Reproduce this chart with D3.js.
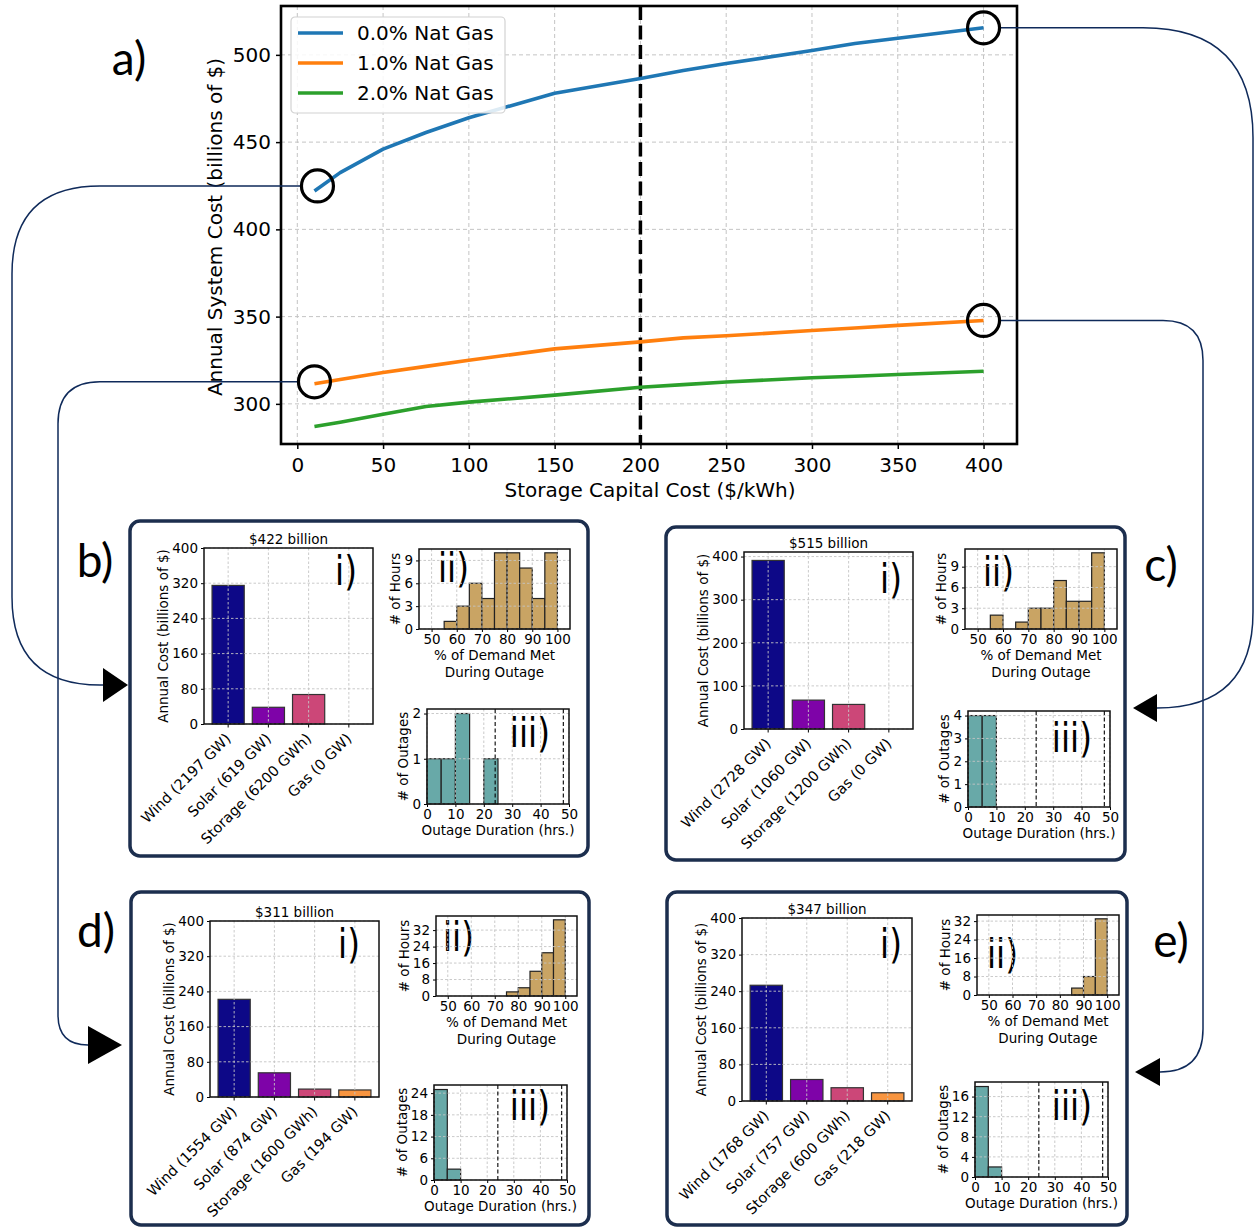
<!DOCTYPE html>
<html>
<head>
<meta charset="utf-8">
<script src="https://cdn.jsdelivr.net/npm/d3@7"></script>
<style>
body{margin:0;background:#fff;}
svg{display:block;font-family:"DejaVu Sans",sans-serif;}
</style>
</head>
<body>
<script>
//storage cost sweep figure, main line chart plus four detail panels
(function(){

//MAIN CHART DATA
var storageCost = [10, 25, 50, 75, 100, 150, 200, 225, 250, 300, 325, 350, 400];
var cost0Gas = [422, 432.5, 446, 455.5, 464, 478, 486.5, 491, 495, 502.5, 506.5, 509.5, 515.5];
var cost1Gas = [311.5, 314, 318, 321.5, 325, 331.5, 335.5, 337.8, 339, 342, 343.5, 345, 347.8];
var cost2Gas = [287, 289.5, 294, 298.5, 301, 305, 309.5, 311, 312.5, 315, 315.8, 316.8, 318.7];
var seriesNames = ["0.0% Nat Gas", "1.0% Nat Gas", "2.0% Nat Gas"];
var costTicksX = [0, 50, 100, 150, 200, 250, 300, 350, 400];
var costTicksY = [300, 350, 400, 450, 500];
var refCost = 200; //dashed reference line

//DETAIL PANEL DATA
var techs = ["Wind", "Solar", "Storage", "Gas"];
var demandBins = [50, 55, 60, 65, 70, 75, 80, 85, 90, 95, 100];
var demandTicks = [50, 60, 70, 80, 90, 100];
var outageBins = [0, 5, 10, 15, 20, 25, 30, 35, 40, 45, 50];
var outageTicks = [0, 10, 20, 30, 40, 50];
var outageMarks = [24, 48];

//b) 0% gas, $10/kWh
var bTotal = 422;
var bCost = [315, 38, 67, 0];
var bCap = ["2197 GW", "619 GW", "6200 GWh", "0 GW"];
var bHours = [0, 1, 3, 6, 4, 10, 10, 8, 4, 10];
var bOutages = [1, 1, 2, 0, 1, 0, 0, 0, 0, 0];
var bCostTicks = [0, 80, 160, 240, 320, 400];
var bHourTicks = [0, 3, 6, 9];
var bOutageTicks = [0, 1, 2];

//c) 0% gas, $400/kWh
var cTotal = 515;
var cCost = [391, 67, 57, 0];
var cCap = ["2728 GW", "1060 GW", "1200 GWh", "0 GW"];
var cHours = [0, 2, 0, 1, 3, 3, 7, 4, 4, 11];
var cOutages = [4, 4, 0, 0, 0, 0, 0, 0, 0, 0];
var cCostTicks = [0, 100, 200, 300, 400];
var cHourTicks = [0, 3, 6, 9];
var cOutageTicks = [0, 1, 2, 3, 4];

//d) 1% gas, $10/kWh
var dTotal = 311;
var dCost = [222, 55, 18, 16];
var dCap = ["1554 GW", "874 GW", "1600 GWh", "194 GW"];
var dHours = [0, 0, 0, 0, 0, 2, 4, 12, 21, 37];
var dOutages = [25, 3, 0, 0, 0, 0, 0, 0, 0, 0];
var dCostTicks = [0, 80, 160, 240, 320, 400];
var dHourTicks = [0, 8, 16, 24, 32];
var dOutageTicks = [0, 6, 12, 18, 24];

//e) 1% gas, $400/kWh
var eTotal = 347;
var eCost = [253, 47, 29, 18];
var eCap = ["1768 GW", "757 GW", "600 GWh", "218 GW"];
var eHours = [0, 0, 0, 0, 0, 0, 0, 3, 8, 33];
var eOutages = [18, 2, 0, 0, 0, 0, 0, 0, 0, 0];
var eCostTicks = [0, 80, 160, 240, 320, 400];
var eHourTicks = [0, 8, 16, 24, 32];
var eOutageTicks = [0, 4, 8, 12, 16];

//styles
var seriesColors = ["#1f77b4", "#ff7f0e", "#2ca02c"];
var techColors = ["#0d0887", "#7e03a8", "#cc4778", "#f89540"];
var hourColor = "#c9a464";
var outageColor = "#68a9a8";
var gridColor = "#c4c4c4";
var navy = "#0f2a5a";
var frameColor = "#1c2e4e";
var letterFont = "Lato, 'Open Sans', sans-serif";

var svg = d3.select("body")
	.append("svg")
	.attr("width", 1256)
	.attr("height", 1228);

//MAIN LINE CHART
var box = {left: 281, top: 6, right: 1017, bottom: 444};
var x = d3.scaleLinear().domain([-9.5, 419.5]).range([box.left, box.right]);
var y = d3.scaleLinear().domain([277, 528]).range([box.bottom, box.top]);
var main = svg.append("g").attr("class", "main");

//grid
main.selectAll(".vgrid")
	.data(costTicksX)
	.enter()
	.append("line")
	.attr("x1", function(d){ return x(d); })
	.attr("x2", function(d){ return x(d); })
	.attr("y1", box.top)
	.attr("y2", box.bottom)
	.attr("stroke", gridColor)
	.attr("stroke-width", 1)
	.attr("stroke-dasharray", "4,3");
main.selectAll(".hgrid")
	.data(costTicksY)
	.enter()
	.append("line")
	.attr("x1", box.left)
	.attr("x2", box.right)
	.attr("y1", function(d){ return y(d); })
	.attr("y2", function(d){ return y(d); })
	.attr("stroke", gridColor)
	.attr("stroke-width", 1)
	.attr("stroke-dasharray", "4,3");

//reference line
main.append("line")
	.attr("x1", x(refCost))
	.attr("x2", x(refCost))
	.attr("y1", box.top)
	.attr("y2", box.bottom)
	.attr("stroke", "#000")
	.attr("stroke-width", 3.5)
	.attr("stroke-dasharray", "14,5.5");

//cost lines
var series = [cost0Gas, cost1Gas, cost2Gas];
var line = d3.line()
	.x(function(d, i){ return x(storageCost[i]); })
	.y(function(d){ return y(d); });
main.selectAll(".costLine")
	.data(series)
	.enter()
	.append("path")
	.attr("class", "costLine")
	.attr("d", line)
	.attr("fill", "none")
	.attr("stroke", function(d, i){ return seriesColors[i]; })
	.attr("stroke-width", 3.6)
	.attr("stroke-linejoin", "round");

//axes
var xAxis = main.append("g")
	.attr("transform", "translate(0," + box.bottom + ")")
	.call(d3.axisBottom(x).tickValues(costTicksX).tickSize(5).tickPadding(9));
var yAxis = main.append("g")
	.attr("transform", "translate(" + box.left + ",0)")
	.call(d3.axisLeft(y).tickValues(costTicksY).tickSize(5).tickPadding(5));
[xAxis, yAxis].forEach(function(a){
	a.select(".domain").remove();
	a.selectAll("line").attr("stroke", "#000").attr("stroke-width", 1.5);
	a.selectAll("text").attr("fill", "#000").style("font-size", "20px").style("font-family", "DejaVu Sans");
});

//frame
main.append("rect")
	.attr("x", box.left)
	.attr("y", box.top)
	.attr("width", box.right - box.left)
	.attr("height", box.bottom - box.top)
	.attr("fill", "none")
	.attr("stroke", "#000")
	.attr("stroke-width", 2.6);

//axis titles
main.append("text")
	.attr("x", (box.left + box.right) / 2 + 1)
	.attr("y", 497)
	.attr("text-anchor", "middle")
	.style("font-size", "20px")
	.text("Storage Capital Cost ($/kWh)");
main.append("text")
	.attr("transform", "translate(215," + ((box.top + box.bottom) / 2 + 2) + ") rotate(-90)")
	.attr("text-anchor", "middle")
	.attr("dominant-baseline", "central")
	.style("font-size", "20px")
	.text("Annual System Cost (billions of $)");

//legend
var legend = main.append("g").attr("transform", "translate(291,17)");
legend.append("rect")
	.attr("width", 214)
	.attr("height", 96)
	.attr("rx", 4)
	.attr("fill", "#fff")
	.attr("fill-opacity", 0.85)
	.attr("stroke", "#d2d2d2")
	.attr("stroke-width", 1.2);
var entries = legend.selectAll(".entry")
	.data(seriesNames)
	.enter()
	.append("g")
	.attr("transform", function(d, i){ return "translate(0," + (16 + i * 30) + ")"; });
entries.append("line")
	.attr("x1", 7).attr("x2", 52)
	.attr("stroke", function(d, i){ return seriesColors[i]; })
	.attr("stroke-width", 3.6);
entries.append("text")
	.attr("x", 66)
	.attr("y", 7)
	.style("font-size", "20px")
	.text(function(d){ return d; });

//circled points and connectors to the detail panels
var markers = [
	{s: 0, i: 0, dx: 3, dy: -5},
	{s: 0, i: storageCost.length - 1, dx: 0, dy: 0},
	{s: 1, i: 0, dx: 0, dy: -2},
	{s: 1, i: storageCost.length - 1, dx: 0, dy: 0}
];
var ringR = 16;
markers.forEach(function(m){
	m.cx = x(storageCost[m.i]) + m.dx;
	m.cy = y(series[m.s][m.i]) + m.dy;
});

function elbowPath(sx, sy, vx, ty, tx, r1, r2) {
	var d1 = vx < sx ? 1 : -1; //vertical run is left or right of start
	var d2 = tx > vx ? 1 : -1;
	return "M" + sx + "," + sy +
		" H" + (vx + d1 * r1) +
		" Q" + vx + "," + sy + " " + vx + "," + (sy + r1) +
		" V" + (ty - r2) +
		" Q" + vx + "," + ty + " " + (vx + d2 * r2) + "," + ty +
		" H" + tx;
}

var connectors = [
	{m: 0, vx: 12, ty: 685, base: 103, tip: 128, half: 17, r1: 88, r2: 88},
	{m: 2, vx: 58, ty: 1045, base: 88, tip: 122, half: 19, r1: 42, r2: 30},
	{m: 1, vx: 1253, ty: 708, base: 1157, tip: 1133, half: 14, r1: 110, r2: 96},
	{m: 3, vx: 1203, ty: 1072, base: 1160, tip: 1135, half: 14, r1: 40, r2: 43}
];
connectors.forEach(function(c){
	var m = markers[c.m];
	var sx = c.vx < m.cx ? m.cx - ringR : m.cx + ringR;
	svg.append("path")
		.attr("d", elbowPath(sx, m.cy, c.vx, c.ty, c.base, c.r1, c.r2))
		.attr("fill", "none")
		.attr("stroke", navy)
		.attr("stroke-width", 1.5);
	svg.append("path")
		.attr("d", "M" + c.base + "," + (c.ty - c.half) + " L" + c.tip + "," + c.ty + " L" + c.base + "," + (c.ty + c.half) + " Z")
		.attr("fill", "#000");
});

svg.selectAll(".ring")
	.data(markers)
	.enter()
	.append("circle")
	.attr("cx", function(d){ return d.cx; })
	.attr("cy", function(d){ return d.cy; })
	.attr("r", ringR)
	.attr("fill", "none")
	.attr("stroke", "#000")
	.attr("stroke-width", 3.2);

svg.append("text")
	.attr("x", 129)
	.attr("y", 75)
	.attr("text-anchor", "middle")
	.style("font-family", letterFont)
	.style("font-size", "46px")
	.text("a)");

//DETAIL PANELS
var panels = [
	{letter: "b)", total: bTotal, cost: bCost, cap: bCap, hours: bHours, outages: bOutages,
		costTicks: bCostTicks, hourTicks: bHourTicks, outageTicks: bOutageTicks, costTop: 400,
		frame: [130, 521, 458, 335], letterPos: [95, 577],
		bar: [204, 548, 169, 176], ii: [419, 549, 151, 80], iii: [427, 709, 142, 95],
		iOff: [-16, 7], iiOff: [19, 3], iiiOff: [-19, 8]},
	{letter: "c)", total: cTotal, cost: cCost, cap: cCap, hours: cHours, outages: cOutages,
		costTicks: cCostTicks, hourTicks: cHourTicks, outageTicks: cOutageTicks, costTop: null,
		frame: [666, 527, 459, 333], letterPos: [1161, 581],
		bar: [744, 552, 169, 177], ii: [965, 549, 152, 80], iii: [968, 711, 142, 96],
		iOff: [-11, 11], iiOff: [18, 7], iiiOff: [-18, 11]},
	{letter: "d)", total: dTotal, cost: dCost, cap: dCap, hours: dHours, outages: dOutages,
		costTicks: dCostTicks, hourTicks: dHourTicks, outageTicks: dOutageTicks, costTop: 400,
		frame: [131, 892, 458, 333], letterPos: [96, 947],
		bar: [210, 921, 169, 176], ii: [436, 916, 141, 80], iii: [434, 1085, 133, 95],
		iOff: [-19, 7], iiOff: [7, 5], iiiOff: [-17, 5]},
	{letter: "e)", total: eTotal, cost: eCost, cap: eCap, hours: eHours, outages: eOutages,
		costTicks: eCostTicks, hourTicks: eHourTicks, outageTicks: eOutageTicks, costTop: 400,
		frame: [667, 892, 460, 333], letterPos: [1171, 957],
		bar: [742, 918, 170, 183], ii: [977, 915, 142, 80], iii: [975, 1082, 133, 95],
		iOff: [-10, 10], iiOff: [10, 23], iiiOff: [-16, 8]}
];

//shared axis styling for the small charts
function styleAxis(a) {
	a.select(".domain").remove();
	a.selectAll("line").attr("stroke", "#000").attr("stroke-width", 1);
	a.selectAll("text").attr("fill", "#000").style("font-size", "13.5px").style("font-family", "DejaVu Sans");
}

function gridLines(g, xs, ys, xVals, yVals, b) {
	g.selectAll(".gx")
		.data(xVals)
		.enter()
		.append("line")
		.attr("x1", function(d){ return xs(d); })
		.attr("x2", function(d){ return xs(d); })
		.attr("y1", b[1]).attr("y2", b[1] + b[3])
		.attr("stroke", gridColor).attr("stroke-width", 0.9).attr("stroke-dasharray", "2.5,2");
	g.selectAll(".gy")
		.data(yVals)
		.enter()
		.append("line")
		.attr("x1", b[0]).attr("x2", b[0] + b[2])
		.attr("y1", function(d){ return ys(d); })
		.attr("y2", function(d){ return ys(d); })
		.attr("stroke", gridColor).attr("stroke-width", 0.9).attr("stroke-dasharray", "2.5,2");
}

function frameBox(g, b) {
	g.append("rect")
		.attr("x", b[0]).attr("y", b[1])
		.attr("width", b[2]).attr("height", b[3])
		.attr("fill", "none")
		.attr("stroke", "#111")
		.attr("stroke-width", 1.5);
}

//y label placed left of the widest tick label
function yTitle(g, axisG, b, label) {
	var maxW = d3.max(axisG.selectAll("text").nodes(), function(n){ return n.getBBox().width; });
	g.append("text")
		.attr("transform", "translate(" + (b[0] - 6 - maxW - 9) + "," + (b[1] + b[3] / 2) + ") rotate(-90)")
		.attr("text-anchor", "middle")
		.attr("dominant-baseline", "central")
		.style("font-size", "13.5px")
		.text(label);
}

function romanLabel(g, b, off, txt, anchorRight) {
	var fs = 40;
	var tx = anchorRight ? b[0] + b[2] + off[0] : b[0] + off[0];
	g.append("text")
		.attr("transform", "translate(" + tx + "," + (b[1] + off[1] + 0.76 * fs) + ") scale(0.82,1)")
		.attr("text-anchor", anchorRight ? "end" : "start")
		.style("font-size", fs + "px")
		.text(txt);
}

function drawCostBars(g, p) {
	var b = p.bar;
	var xb = d3.scaleBand().domain(techs).range([b[0], b[0] + b[2]]).paddingInner(0.2).paddingOuter(0.2);
	var yb = d3.scaleLinear().domain([0, p.costTop || d3.max(p.cost) * 1.05]).range([b[1] + b[3], b[1]]);

	g.selectAll(".bar")
		.data(p.cost)
		.enter()
		.append("rect")
		.attr("x", function(d, i){ return xb(techs[i]); })
		.attr("width", xb.bandwidth())
		.attr("y", function(d){ return yb(d); })
		.attr("height", function(d){ return yb(0) - yb(d); })
		.attr("fill", function(d, i){ return techColors[i]; })
		.attr("stroke", "#333")
		.attr("stroke-width", 1.2);

	gridLines(g, function(d){ return xb(d) + xb.bandwidth() / 2; }, yb, techs, p.costTicks, b);

	var ax = g.append("g")
		.attr("transform", "translate(0," + (b[1] + b[3]) + ")")
		.call(d3.axisBottom(xb).tickSize(3.5).tickFormat(function(d, i){ return d + " (" + p.cap[i] + ")"; }));
	styleAxis(ax);
	ax.selectAll("text")
		.attr("y", 0)
		.attr("dy", "0.35em")
		.attr("text-anchor", "end")
		.attr("transform", "translate(0,12) rotate(-45)")
		.style("font-size", "14.5px");

	var ay = g.append("g")
		.attr("transform", "translate(" + b[0] + ",0)")
		.call(d3.axisLeft(yb).tickValues(p.costTicks).tickSize(3).tickPadding(3).tickFormat(d3.format("d")));
	styleAxis(ay);

	frameBox(g, b);
	yTitle(g, ay, b, "Annual Cost (billions of $)");

	g.append("text")
		.attr("x", b[0] + b[2] / 2)
		.attr("y", b[1] - 4.5)
		.attr("text-anchor", "middle")
		.style("font-size", "13.5px")
		.text("$" + p.total + " billion");

	romanLabel(g, b, p.iOff, "i)", true);
}

function drawHist(g, b, bins, counts, dom, xTicks, yTicks, color, xLines, yLabel, marks) {
	var xs = d3.scaleLinear().domain(dom).range([b[0], b[0] + b[2]]);
	var ys = d3.scaleLinear().domain([0, d3.max(counts) * 1.05]).range([b[1] + b[3], b[1]]);

	//pair each count with its bin edges, skip empty bins
	var binned = counts.map(function(c, i){
		return {x0: bins[i], x1: bins[i + 1], n: c};
	}).filter(function(d){ return d.n > 0; });

	g.selectAll(".hbar")
		.data(binned)
		.enter()
		.append("rect")
		.attr("x", function(d){ return xs(d.x0); })
		.attr("width", function(d){ return xs(d.x1) - xs(d.x0); })
		.attr("y", function(d){ return ys(d.n); })
		.attr("height", function(d){ return ys(0) - ys(d.n); })
		.attr("fill", color)
		.attr("stroke", "#222")
		.attr("stroke-width", 1.2);

	gridLines(g, xs, ys, xTicks, yTicks, b);

	marks.forEach(function(m){
		g.append("line")
			.attr("x1", xs(m)).attr("x2", xs(m))
			.attr("y1", b[1]).attr("y2", b[1] + b[3])
			.attr("stroke", "#000")
			.attr("stroke-width", 1.1)
			.attr("stroke-dasharray", "4,2.5");
	});

	var ax = g.append("g")
		.attr("transform", "translate(0," + (b[1] + b[3]) + ")")
		.call(d3.axisBottom(xs).tickValues(xTicks).tickSize(3).tickPadding(2).tickFormat(d3.format("d")));
	styleAxis(ax);
	var ay = g.append("g")
		.attr("transform", "translate(" + b[0] + ",0)")
		.call(d3.axisLeft(ys).tickValues(yTicks).tickSize(3).tickPadding(3).tickFormat(d3.format("d")));
	styleAxis(ay);

	frameBox(g, b);
	yTitle(g, ay, b, yLabel);

	xLines.forEach(function(t, i){
		g.append("text")
			.attr("x", b[0] + b[2] / 2)
			.attr("y", b[1] + b[3] + 31 + i * 16.5)
			.attr("text-anchor", "middle")
			.style("font-size", "13.5px")
			.text(t);
	});
}

panels.forEach(function(p){
	var g = svg.append("g").attr("class", "panel");

	g.append("rect")
		.attr("x", p.frame[0]).attr("y", p.frame[1])
		.attr("width", p.frame[2]).attr("height", p.frame[3])
		.attr("rx", 10)
		.attr("fill", "none")
		.attr("stroke", frameColor)
		.attr("stroke-width", 3.5);

	drawCostBars(g, p);

	//ii) label sits behind the histogram bars
	romanLabel(g, p.ii, p.iiOff, "ii)", false);
	drawHist(g, p.ii, demandBins, p.hours, [45, 105], demandTicks, p.hourTicks, hourColor,
		["% of Demand Met", "During Outage"], "# of Hours", []);

	drawHist(g, p.iii, outageBins, p.outages, [0, 50], outageTicks, p.outageTicks, outageColor,
		["Outage Duration (hrs.)"], "# of Outages", outageMarks);
	romanLabel(g, p.iii, p.iiiOff, "iii)", true);

	svg.append("text")
		.attr("x", p.letterPos[0])
		.attr("y", p.letterPos[1])
		.attr("text-anchor", "middle")
		.style("font-family", letterFont)
		.style("font-size", "46px")
		.text(p.letter);
});

})();
</script>
</body>
</html>
